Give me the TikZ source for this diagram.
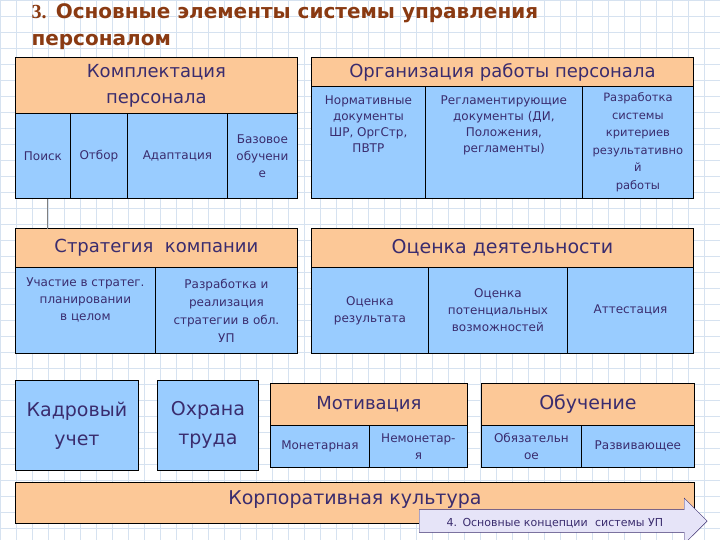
\documentclass[tikz,border=0pt]{standalone}
\usepackage{fontspec}
\setmainfont{DejaVu Sans}
\newfontfamily\serifz{Liberation Serif}
\usetikzlibrary{shapes.arrows}
\definecolor{orng}{HTML}{FCC897}
\definecolor{blu}{HTML}{99CCFF}
\definecolor{txt}{HTML}{3A2C6E}
\definecolor{ttl}{HTML}{8A3A12}
\definecolor{grd}{HTML}{D6E2F0}
\definecolor{lav}{HTML}{E6E4F8}
\tikzset{
 cell/.style={draw=black,line width=0.8pt,text=txt,align=center,inner sep=1pt},
 hd/.style={cell,fill=orng},
 bl/.style={cell,fill=blu}
}
\newcommand{\bx}[5]{\node[#1,minimum width=#4-#2,minimum height=#5-#3,anchor=north west] at (#2,#3)}
\begin{document}
\begin{tikzpicture}[x=1pt,y=-1pt]
\useasboundingbox (0,0) rectangle (720,540);
\fill[white] (0,0) rectangle (720,540);
\foreach \i in {0,16,...,720} \draw[grd,line width=0.5pt] (\i,0) -- (\i,540);
\foreach \j in {0,16,...,540} \draw[grd,line width=0.5pt] (0,\j) -- (720,\j);
\node[anchor=west,text=ttl,font=\bfseries\fontsize{20}{22}\selectfont,align=left] (t1) at (28,13) {{\serifz 3.} Основные элементы системы управления};
\node[anchor=west,text=ttl,font=\bfseries\fontsize{20}{22}\selectfont] (t2) at (28,42) {персоналом};
% box 1
\bx{hd,font=\fontsize{18}{26}\selectfont}{15}{57}{297}{113} (a0) {Комплектация\\персонала};
\bx{bl,font=\fontsize{12}{16}\selectfont}{15}{113}{70}{198} (a1) {Поиск};
\bx{bl,font=\fontsize{12}{16}\selectfont}{70}{113}{127}{198} (a2) {Отбор};
\bx{bl,font=\fontsize{12}{16}\selectfont}{127}{113}{227}{198} (a3) {Адаптация};
\bx{bl,font=\fontsize{12}{17}\selectfont}{227}{113}{297}{198} (a4) {Базовое\\обучени\\е};
% box 2
\bx{hd,font=\fontsize{18}{22}\selectfont}{311}{57}{693}{86} (b0) {Организация работы персонала};
\bx{bl,font=\fontsize{12}{16}\selectfont}{311}{86}{425}{198} (b1) {Нормативные\\документы\\ШР, ОргСтр,\\ПВТР\\[20pt]};
\bx{bl,font=\fontsize{12}{16}\selectfont}{425}{86}{582}{198} (b2) {Регламентирующие\\документы (ДИ,\\Положения,\\регламенты)\\[20pt]};
\bx{bl,font=\fontsize{11.5}{17.5}\selectfont}{582}{86}{693}{198} (b3) {Разработка\\системы\\критериев\\результативно\\й\\работы};
% box 3
\bx{hd,font=\fontsize{18}{22}\selectfont}{15}{228}{297}{267} (c0) {Стратегия\ \ компании};
\bx{bl,font=\fontsize{12}{17}\selectfont}{15}{267}{155}{353} (c1) {Участие в стратег.\\планировании\\в целом\\[6pt]};
\bx{bl,font=\fontsize{12}{18}\selectfont}{155}{267}{297}{353} (c2) {Разработка и\\реализация\\стратегии в обл.\\УП};
% box 4
\bx{hd,font=\fontsize{19}{22}\selectfont}{311}{228}{693}{267} (d0) {Оценка деятельности};
\bx{bl,font=\fontsize{12}{17}\selectfont}{311}{267}{428}{353} (d1) {Оценка\\результата};
\bx{bl,font=\fontsize{12}{17}\selectfont}{428}{267}{567}{353} (d2) {Оценка\\потенциальных\\возможностей};
\bx{bl,font=\fontsize{12}{17}\selectfont}{567}{267}{693}{353} (d3) {Аттестация};
% bottom
\bx{bl,font=\fontsize{19}{29}\selectfont}{15}{380}{138}{470} (e1) {Кадровый\\учет};
\bx{bl,font=\fontsize{19}{29}\selectfont}{157}{380}{258}{470} (e2) {Охрана\\труда};
\bx{hd,font=\fontsize{18}{22}\selectfont}{270}{383}{467}{425} (f0) {Мотивация};
\bx{bl,font=\fontsize{12}{17}\selectfont}{270}{425}{369}{467} (f1) {Монетарная};
\bx{bl,font=\fontsize{12}{17}\selectfont}{369}{425}{467}{467} (f2) {Немонетар-\\я};
\bx{hd,font=\fontsize{19}{22}\selectfont}{481}{383}{694}{425} (g0) {Обучение};
\bx{bl,font=\fontsize{12}{17}\selectfont}{481}{425}{581}{467} (g1) {Обязательн\\ое};
\bx{bl,font=\fontsize{12}{17}\selectfont}{581}{425}{694}{467} (g2) {Развивающее};
\bx{hd,font=\fontsize{19}{22}\selectfont,text depth=10pt}{15}{482}{694}{523} (h0) {Корпоративная культура};
\draw[gray,line width=1pt] (a1.south west) ++(32,0) coordinate (v1) -- ++(0,30) coordinate (v2);
\node[single arrow,draw=txt,fill=lav,minimum height=288,minimum width=46,single arrow head extend=11pt,single arrow head indent=0pt,single arrow tip angle=90,inner sep=0pt,text=txt,font=\fontsize{11}{12}\selectfont,anchor=west,align=left,text width=230,text height=16pt,text depth=5pt] (ar) at (419,521) {\hspace*{4pt}4. Основные концепции\ \ системы УП\hfill};
\end{tikzpicture}
\end{document}
